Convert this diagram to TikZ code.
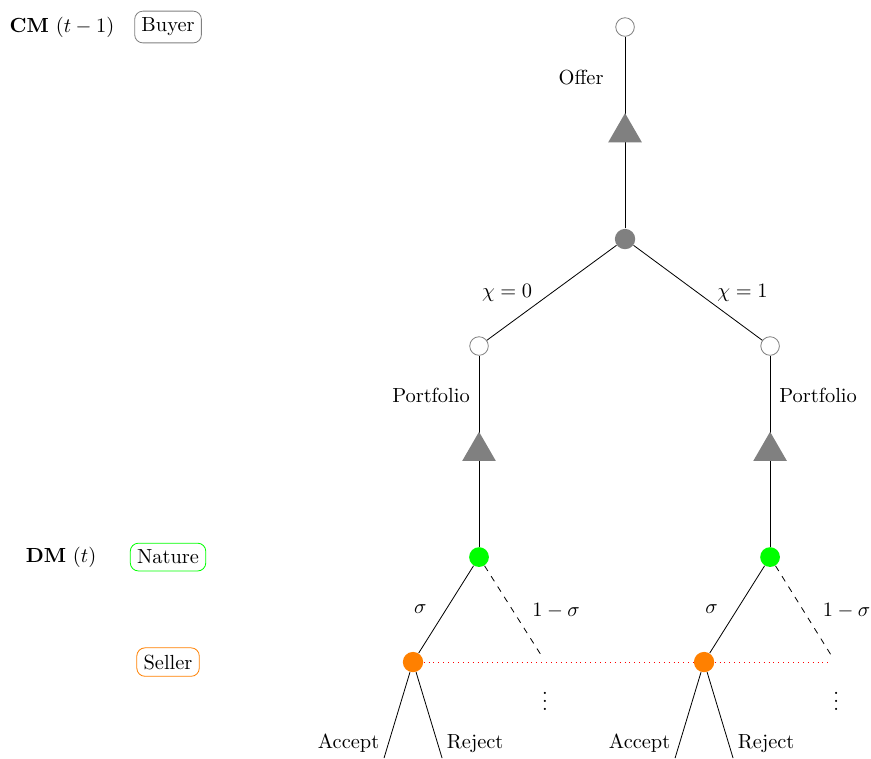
\documentclass[tikz,border=0pt]{standalone}
\usetikzlibrary{shapes.geometric}
\begin{document}
\begin{tikzpicture}[
open/.style={draw=gray, fill=white, circle, minimum size=0.32cm, inner sep=0pt},
chance/.style={fill=gray, circle, minimum size=0.35cm, inner sep=0pt},
nature/.style={fill=green, circle, minimum size=0.34cm, inner sep=0pt},
seller/.style={fill=orange, circle, minimum size=0.35cm, inner sep=0pt},
tri/.style={fill=gray, regular polygon, regular polygon sides=3, minimum size=0.67cm, inner sep=0pt},
player/.style={draw, rectangle, rounded corners}
]
\useasboundingbox (0,0) rectangle (14.99,-13.046);

% left column
\node (cm) at (1.067,-0.465) {\textbf{CM} $(t-1)$};
\node[player, draw=gray] (buyer) at (2.892,-0.465) {Buyer};
\node (dm) at (1.05,-9.587) {\textbf{DM} $(t)$};
\node[player, draw=green] (natlab) at (2.892,-9.587) {Nature};
\node[player, draw=orange] (sellab) at (2.892,-11.394) {Seller};

% tree
\node[open] (o1) at (10.757,-0.465) {};
\node[chance] (c) at (10.757,-4.114) {};
\node[open] (oL) at (8.244,-5.955) {};
\node[open] (oR) at (13.253,-5.955) {};
\node[nature] (gL) at (8.244,-9.587) {};
\node[nature] (gR) at (13.253,-9.587) {};
\node[seller] (sL) at (7.108,-11.394) {};
\node[seller] (sR) at (12.117,-11.394) {};
\coordinate (dL) at (9.312,-11.274);
\coordinate (dR) at (14.303,-11.274);
\coordinate (rEnd) at (14.25,-11.394);
\coordinate (aL) at (6.609,-13.046);
\coordinate (rL) at (7.608,-13.046);
\coordinate (aR) at (11.618,-13.046);
\coordinate (rR) at (12.616,-13.046);
\node (vL) at (9.38,-11.97) {$\vdots$};
\node (vR) at (14.39,-11.97) {$\vdots$};

\draw (c) -- node[tri] (t0) {} node[pos=.785, left=7pt] (offer) {Offer} (o1);
\draw (c) -- node[midway, left=6pt] (x0) {$\chi = 0$} (oL);
\draw (c) -- node[midway, right=6pt] (x1) {$\chi = 1$} (oR);
\draw (gL) -- node[tri] (tL) {} node[pos=.79, left=1pt] (pL) {Portfolio} (oL);
\draw (gR) -- node[tri] (tR) {} node[pos=.79, right=1pt] (pR) {Portfolio} (oR);

\draw (gL) -- node[midway, left=6pt] {$\sigma$} (sL);
\draw[dashed] (gL) -- node[midway, right=6pt] {$1-\sigma$} (dL);
\draw (gR) -- node[midway, left=6pt] {$\sigma$} (sR);
\draw[dashed] (gR) -- node[midway, right=6pt] {$1-\sigma$} (dR);

\draw[red, dotted] (sL) -- (sR) -- (rEnd);

\draw (sL) -- node[pos=.83, left=1pt] {Accept} (aL);
\draw (sL) -- node[pos=.83, right=1pt] {Reject} (rL);
\draw (sR) -- node[pos=.83, left=1pt] {Accept} (aR);
\draw (sR) -- node[pos=.83, right=1pt] {Reject} (rR);
\end{tikzpicture}
\end{document}
